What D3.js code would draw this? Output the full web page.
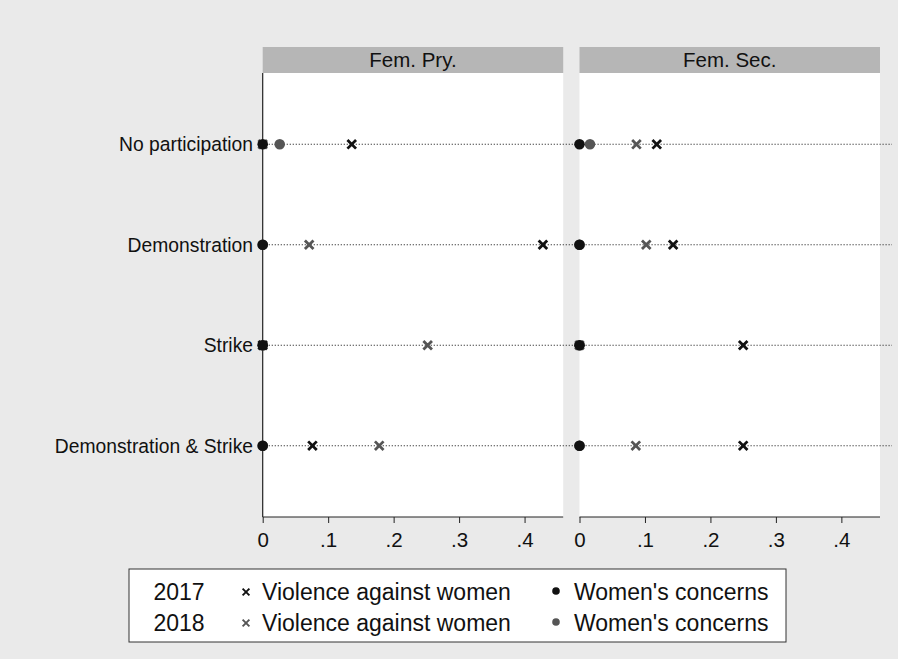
<!DOCTYPE html>
<html>
<head>
<meta charset="utf-8">
<script src="https://cdn.jsdelivr.net/npm/d3@7"></script>
<style>
  body { margin: 0; background: #eaeaea; }
  svg text { font-family: "Liberation Sans", Arial, sans-serif; fill: #111; }
</style>
</head>
<body>
<div id="chart"></div>
<script>
// categories and panels
var categories = ["No participation", "Demonstration", "Strike", "Demonstration & Strike"];
var panels = ["Fem. Pry.", "Fem. Sec."];
var xTicks = [0, 0.1, 0.2, 0.3, 0.4];
var xTickLabels = ["0", ".1", ".2", ".3", ".4"];

// shares, one value per category
var violence2017Pry = [0.136, 0.428, 0, 0.076];
var violence2018Pry = [0, 0.071, 0.252, 0.178];
var concerns2017Pry = [0, 0, 0, 0];
var concerns2018Pry = [0.026, 0, 0, 0];

var violence2017Sec = [0.118, 0.143, 0.25, 0.25];
var violence2018Sec = [0.087, 0.102, 0, 0.086];
var concerns2017Sec = [0, 0, 0, 0];
var concerns2018Sec = [0.016, 0, 0, 0];

var seriesByPanel = [
  [
    {key: "v2018", values: violence2018Pry, shape: "x", color: "#555"},
    {key: "c2018", values: concerns2018Pry, shape: "dot", color: "#555"},
    {key: "v2017", values: violence2017Pry, shape: "x", color: "#111"},
    {key: "c2017", values: concerns2017Pry, shape: "dot", color: "#111"}
  ],
  [
    {key: "v2018", values: violence2018Sec, shape: "x", color: "#555"},
    {key: "c2018", values: concerns2018Sec, shape: "dot", color: "#555"},
    {key: "v2017", values: violence2017Sec, shape: "x", color: "#111"},
    {key: "c2017", values: concerns2017Sec, shape: "dot", color: "#111"}
  ]
];

var W = 898, H = 659;
var plotTop = 73, plotBottom = 517;
var panelX = [262.7, 579.5], panelW = 300.5;

var svg = d3.select("#chart").append("svg").attr("width", W).attr("height", H);
svg.append("rect").attr("width", W).attr("height", H).attr("fill", "#eaeaea");

var y = d3.scalePoint().domain(categories).range([plotTop, plotBottom]).padding(0.71);

function drawX(g, cx, cy, s, color, sw) {
  g.append("path")
    .attr("d", "M" + (cx - s) + "," + (cy - s) + "L" + (cx + s) + "," + (cy + s) +
               "M" + (cx - s) + "," + (cy + s) + "L" + (cx + s) + "," + (cy - s))
    .attr("stroke", color).attr("stroke-width", sw).attr("fill", "none");
}

panels.forEach(function(name, pi) {
  var x0 = panelX[pi];
  var x = d3.scaleLinear().domain([0, 0.459]).range([x0, x0 + panelW]);
  var g = svg.append("g");

  // plot area + header strip
  g.append("rect").attr("x", x0).attr("y", plotTop).attr("width", panelW)
    .attr("height", plotBottom - plotTop).attr("fill", "#fff");
  g.append("rect").attr("x", x0).attr("y", 47).attr("width", panelW)
    .attr("height", 26).attr("fill", "#b6b6b6");
  g.append("text").attr("x", x0 + panelW / 2).attr("y", 60).attr("dy", "0.36em")
    .attr("text-anchor", "middle").style("font-size", "20.5px").text(name);

  // dotted guide lines per category
  g.selectAll("line.guide").data(categories).enter().append("line")
    .attr("class", "guide")
    .attr("x1", x0).attr("x2", x0 + panelW + 12)
    .attr("y1", function(d) { return y(d); }).attr("y2", function(d) { return y(d); })
    .attr("stroke", "#333").attr("stroke-width", 1.1).attr("stroke-dasharray", "1.2,1.8");

  // x axis
  var axis = d3.axisBottom(x).tickValues(xTicks).tickSize(6)
    .tickFormat(function(d, i) { return xTickLabels[i]; });
  var ag = g.append("g").attr("transform", "translate(0," + plotBottom + ")").call(axis);
  ag.select(".domain").attr("d", "M" + x0 + ",0H" + (x0 + panelW)).attr("stroke", "#222");
  ag.selectAll(".tick line").attr("stroke", "#222");
  ag.selectAll(".tick text").attr("y", 23).attr("dy", "0.36em")
    .style("font-size", "20.5px").style("font-family", "'Liberation Sans', Arial, sans-serif").attr("fill", "#111");

  // y axis only on first panel
  if (pi == 0) {
    g.append("line").attr("x1", x0).attr("x2", x0).attr("y1", plotTop).attr("y2", plotBottom)
      .attr("stroke", "#222").attr("stroke-width", 1.2);
    g.selectAll("text.cat").data(categories).enter().append("text")
      .attr("class", "cat")
      .attr("x", 253).attr("y", function(d) { return y(d); }).attr("dy", "0.36em")
      .attr("text-anchor", "end").style("font-size", "19.3px").text(function(d) { return d; });
  }

  // markers
  seriesByPanel[pi].forEach(function(s) {
    s.values.forEach(function(v, ci) {
      var cx = x(v), cy = y(categories[ci]);
      if (s.shape == "dot") {
        g.append("circle").attr("cx", cx).attr("cy", cy).attr("r", 5.3).attr("fill", s.color);
      } else {
        drawX(g, cx, cy, 4.3, s.color, 2.8);
      }
    });
  });
});

// legend
var lg = svg.append("g");
lg.append("rect").attr("x", 129).attr("y", 569).attr("width", 657).attr("height", 73)
  .attr("fill", "#fff").attr("stroke", "#333").attr("stroke-width", 1);
var legendRows = [
  {year: "2017", color: "#111", cy: 592},
  {year: "2018", color: "#555", cy: 623}
];
legendRows.forEach(function(r) {
  lg.append("text").attr("x", 153.5).attr("y", r.cy).attr("dy", "0.36em")
    .style("font-size", "23px").text(r.year);
  drawX(lg, 246, r.cy, 3.4, r.color, 1.9);
  lg.append("text").attr("x", 262).attr("y", r.cy).attr("dy", "0.36em")
    .style("font-size", "23px").text("Violence against women");
  lg.append("circle").attr("cx", 556).attr("cy", r.cy - 1).attr("r", 3.8).attr("fill", r.color);
  lg.append("text").attr("x", 574).attr("y", r.cy).attr("dy", "0.36em")
    .style("font-size", "23px").text("Women's concerns");
});
</script>
</body>
</html>
